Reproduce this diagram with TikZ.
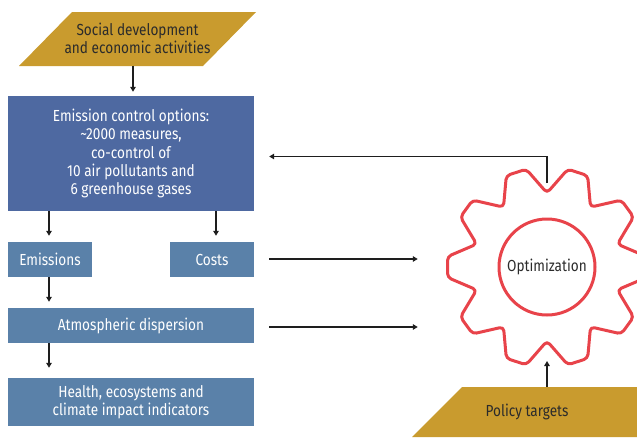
\documentclass[tikz,border=0pt]{standalone}
\usepackage{fontspec}
\setmainfont{Fira Sans}[FakeStretch=0.85]
\usetikzlibrary{arrows.meta,calc}
\definecolor{gold}{HTML}{C99B2E}
\definecolor{darkbox}{HTML}{4E69A1}
\definecolor{lightbox}{HTML}{5A81A9}
\definecolor{gearred}{HTML}{E8434A}
\definecolor{ink}{HTML}{1E1E1E}
\definecolor{txt}{HTML}{2B2B2B}
\tikzset{
  bigbox/.style={fill=darkbox, text=white, minimum width=246pt, inner sep=0pt, align=center, font=\fontsize{16}{18.3}\selectfont},
  smallbox/.style={fill=lightbox, text=white, minimum height=35pt, inner sep=0pt, align=center, font=\fontsize{16}{18.3}\selectfont},
  goldtext/.style={text=txt, inner sep=0pt, align=center, font=\fontsize{16}{18.3}\selectfont},
  arr/.style={draw=ink, line width=1.5pt, -{Triangle[length=5pt,width=5.5pt]}},
  gearline/.style={draw=gearred, line width=3pt, line join=round}
}
\begin{document}
\begin{tikzpicture}[x=1pt,y=-1pt]
\useasboundingbox (0,0) rectangle (637,437);
\clip (0,0) rectangle (637,437);
% top parallelogram
\fill[gold] (19,66) -- (203,66) -- (256,12) -- (72,12) -- cycle;
\node[goldtext, minimum width=137pt, minimum height=54pt] (soc) at (137.5,38.5) {Social development\\and economic activities};
% boxes
\node[bigbox, minimum height=115pt] (emis) at (131,153.5) {Emission control options:\\\textasciitilde 2000 measures,\\co-control of\\10 air pollutants and\\6 greenhouse gases};
\node[smallbox, minimum width=84pt] (emi) at (50,259.5) {Emissions};
\node[smallbox, minimum width=84pt] (cost) at (212,259.5) {Costs};
\node[smallbox, minimum width=246pt] (atm) at (131,325.5) {Atmospheric dispersion};
\node[bigbox, fill=lightbox, minimum height=48pt] (hea) at (131,402) {Health, ecosystems and\\climate impact indicators};
% gear
\begin{scope}[shift={(547,267)}]
\draw[gearline, rounded corners=4pt] (-6:100) -- (6:100) -- (18:74)
  \foreach \a in {36,72,...,324}{ -- (\a-6:100) -- (\a+6:100) -- (\a+18:74)} -- cycle;
\end{scope}
\node[circle, gearline, minimum size=96pt, inner sep=0pt, text=txt, font=\fontsize{16}{18}\selectfont] (opt) at (547,267) {Optimization};
\node[circle, minimum size=200pt, inner sep=0pt] (gear) at (547,267) {};
\coordinate (fb) at (547,183);
\coordinate (gb) at (547,361);
% policy parallelogram
\fill[gold] (412,437) -- (637,437) -- (637,387) -- (462,387) -- cycle;
\node[goldtext, minimum width=120pt, minimum height=50pt] (pol) at (527,412) {Policy targets};
% connectors
\draw[arr, shorten >=4pt] (soc.south -| 133,0) -- (emis.north -| 133,0);
\draw[arr, shorten >=6pt] ($(emis.south -| emi.north)+(-1,0)$) -- ($(emi.north)+(-1,0)$);
\draw[arr, shorten >=6pt] ($(emis.south)+(85,0)$) -- ($(cost.north)+(4,0)$);
\draw[arr, shorten >=6pt] ($(emi.south)+(-1,0)$) -- ($(atm.north -| emi.south)+(-1,0)$);
\draw[arr, shorten >=10pt] ($(atm.south -| emi.south)+(-1,0)$) -- ($(hea.north -| emi.south)+(-1,0)$);
\draw[arr, shorten <=15pt, shorten >=29pt] ($(cost.east)+(0,-0.5)$) -- ($(cost.east -| gear.west)+(0,-0.5)$);
\draw[arr, shorten <=15pt, shorten >=29pt] ($(atm.east)+(0,1.5)$) -- ($(atm.east -| gear.west)+(0,1.5)$);
\draw[arr, shorten >=15pt] (fb) |- ($(emis.east)+(0,3)$);
\draw[arr] (pol.north -| gb) -- (gb);
\end{tikzpicture}
\end{document}
